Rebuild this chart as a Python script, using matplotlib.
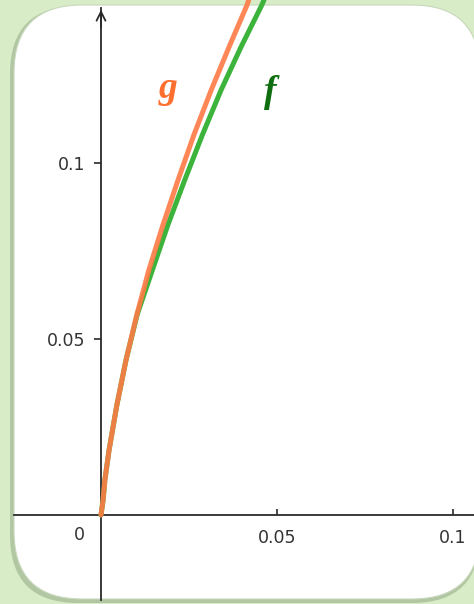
import matplotlib
matplotlib.use("Agg")
import matplotlib.pyplot as plt
from matplotlib.patches import FancyBboxPatch
from matplotlib.transforms import IdentityTransform

# ---- data ----
g_x = [0, 0.0006, 0.0011, 0.0023, 0.0045, 0.0071, 0.0102, 0.0136, 0.0176, 0.0219, 0.0264, 0.0313, 0.0364, 0.0415, 0.0425]
g_y = [0, 0.0043, 0.0099, 0.0185, 0.0312, 0.0440, 0.0570, 0.0696, 0.0824, 0.0952, 0.1080, 0.1207, 0.1330, 0.1449, 0.1480]
f_x = [0, 0.0006, 0.0011, 0.0023, 0.0045, 0.0071, 0.0103, 0.0146, 0.0190, 0.0238, 0.0288, 0.0341, 0.0398, 0.0457, 0.0470]
f_y = [0, 0.0043, 0.0099, 0.0185, 0.0312, 0.0440, 0.0570, 0.0696, 0.0824, 0.0952, 0.1080, 0.1207, 0.1330, 0.1449, 0.1480]
x_ticks = [0.05, 0.1]
x_tick_labels = ["0.05", "0.1"]
y_ticks = [0.05, 0.1]
y_tick_labels = ["0.05", "0.1"]

W, H = 474, 604
fig = plt.figure(figsize=(W / 100, H / 100), dpi=100)
fig.patch.set_facecolor("#d8ecc8")

ax = fig.add_axes([0, 0, 1, 1])
ax.set_facecolor("none")

# rounded white panel with shadow, in pixel coords (origin bottom-left)
pix = IdentityTransform()
shadow = FancyBboxPatch((10, 1), 470, 597,
                        boxstyle="round,pad=0,rounding_size=68",
                        transform=pix, facecolor="#a8bd99",
                        edgecolor="none", alpha=0.8, zorder=0, clip_on=False)
ax.add_patch(shadow)
panel = FancyBboxPatch((14, 5), 466, 594,
                       boxstyle="round,pad=0,rounding_size=68",
                       transform=pix, facecolor="white",
                       edgecolor="#c8d8bc", linewidth=0.8, zorder=0.5, clip_on=False)
ax.add_patch(panel)

scale = 3520.0
ax.set_xlim(-101 / scale, (W - 101) / scale)
ax.set_ylim(-(H - 515) / scale, 515 / scale)

for s in ["top", "right"]:
    ax.spines[s].set_visible(False)
ax.spines["left"].set_position(("data", 0))
ax.spines["bottom"].set_position(("data", 0))
ax.spines["left"].set_bounds(-(600 - 515) / scale, (515 - 8) / scale)
ax.spines["bottom"].set_bounds(-(101 - 14) / scale, (W - 101) / scale)
for s in ["left", "bottom"]:
    ax.spines[s].set_color("#2a2a2a")
    ax.spines[s].set_linewidth(1.3)
    ax.spines[s].set_zorder(2)

# arrow head on the y axis
ax.annotate("", xy=(0, (515 - 7) / scale), xytext=(0, (515 - 30) / scale),
            arrowprops=dict(arrowstyle="->", color="#2a2a2a", lw=1.3,
                            mutation_scale=16))

ax.set_xticks(x_ticks)
ax.set_xticklabels(x_tick_labels)
ax.set_yticks(y_ticks)
ax.set_yticklabels(y_tick_labels)
ax.tick_params(axis="x", direction="in", length=4, width=1.2, color="#2a2a2a",
               pad=10, labelsize=12.5, labelcolor="#333333")
ax.tick_params(axis="y", direction="out", length=5, width=1.2, color="#2a2a2a",
               pad=6, labelsize=12.5, labelcolor="#333333")
ax.text(-22 / scale, -20 / scale, "0", ha="center", va="center",
        fontsize=12.5, color="#333333")

ax.plot(f_x, f_y, color="#3cb43c", lw=3.6, solid_capstyle="round", zorder=3)
ax.plot(g_x, g_y, color="#ff7a45", lw=3.6, alpha=0.9, solid_capstyle="round", zorder=4)

ax.text((168 - 101) / scale, (515 - 88) / scale, "g", color="#ff6f30",
        fontsize=27, fontstyle="italic", fontweight="bold",
        family="Liberation Serif", ha="center", va="center")
ax.text((270 - 101) / scale, (515 - 93) / scale, "f", color="#0f6e0f",
        fontsize=27, fontstyle="italic", fontweight="bold",
        family="Liberation Serif", ha="center", va="center")

fig.savefig("out.png", dpi=100, facecolor=fig.get_facecolor())
